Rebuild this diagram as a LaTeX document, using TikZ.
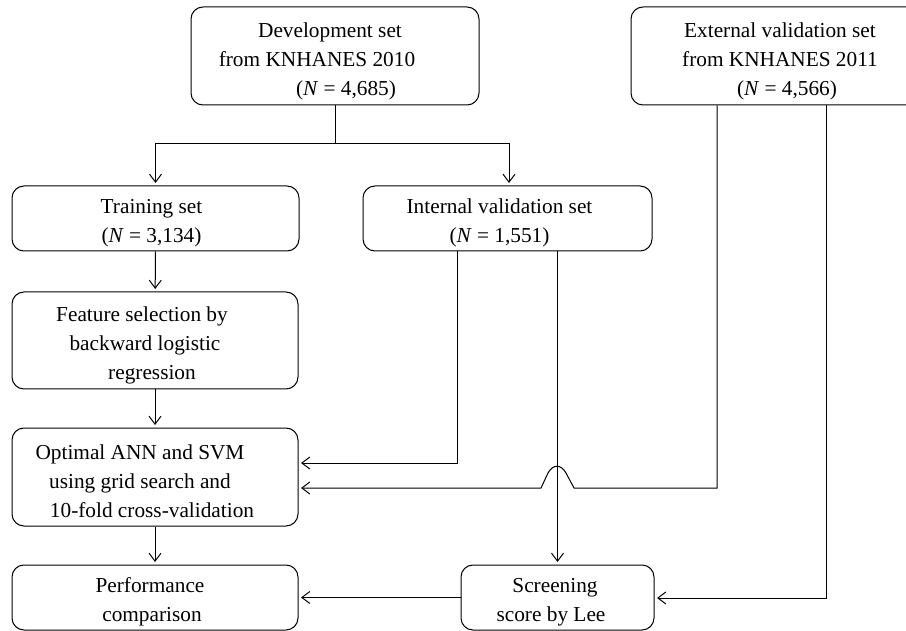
\documentclass[tikz,border=0pt]{standalone}
\usepackage{fontspec}
\setmainfont{Liberation Serif}
\usetikzlibrary{arrows.meta}
\tikzset{
  box/.style={draw, rounded corners=12pt, line width=1pt, inner sep=0pt},
  txt/.style={align=center, inner sep=0pt, font=\fontsize{21.3}{29}\selectfont},
  conn/.style={line width=1pt},
  arr/.style={conn, -{Straight Barb[length=8pt,width=12pt,line width=1pt]}, shorten >=2.5pt}
}
\begin{document}
\begin{tikzpicture}[x=1pt,y=-1pt]
\clip (0,0) rectangle (906,631);
\fill[white] (0,0) rectangle (906,631);

\node[box, minimum width=288pt, minimum height=98pt] (dev) at (335,56) {};
\node[box, minimum width=298pt, minimum height=98pt] (ext) at (780,56) {};
\node[box, minimum width=287pt, minimum height=65pt] (train) at (155.5,218.5) {};
\node[box, minimum width=289pt, minimum height=65pt] (intl) at (507.5,218.5) {};
\node[box, minimum width=286pt, minimum height=97pt] (feat) at (155,340.5) {};
\node[box, minimum width=286pt, minimum height=98pt] (opt) at (155,477) {};
\node[box, minimum width=286pt, minimum height=65pt] (perf) at (155,597.5) {};
\node[box, minimum width=193pt, minimum height=65pt] (scr) at (557.5,597.5) {};

\node[txt] (devt) at (335,61)
  {Development set\hspace*{10pt}\null\\from KNHANES 2010\hspace*{36pt}\null\\\null\hspace*{22pt}(\textit{N} = 4,685)};
\node[txt] (extt) at (780,61)
  {External validation set\\from KNHANES 2011\\\null\hspace*{14pt}(\textit{N} = 4,566)};
\node[txt] (traint) at (155.5,223)
  {Training set\hspace*{8pt}\null\\(\textit{N} = 3,134)\hspace*{8pt}\null};
\node[txt] (intlt) at (507.5,223)
  {Internal validation set\hspace*{16pt}\null\\(\textit{N} = 1,551)\hspace*{16pt}\null};
\node[txt] (featt) at (155,345.5)
  {Feature selection by\hspace*{26pt}\null\\backward logistic\hspace*{20pt}\null\\regression\hspace*{6pt}\null};
\node[txt] (optt) at (155,481)
  {Optimal ANN and SVM\hspace*{30pt}\null\\using grid search and\hspace*{30pt}\null\\10-fold cross-validation\hspace*{6pt}\null};
\node[txt] (perft) at (155,602)
  {Performance\hspace*{10pt}\null\\comparison\hspace*{6pt}\null};
\node[txt] (scrt) at (557.5,602)
  {Screening\hspace*{5pt}\null\\score by Lee\hspace*{13pt}\null};

\coordinate (split) at (335,144);
\coordinate (iv1) at (457,463);
\coordinate (ev1) at (717,488);
\coordinate (hopR) at (574,488);
\coordinate (hopL) at (541,488);
\coordinate (ev2) at (826,598);

\draw[conn] (dev.south) -- (split);
\draw[arr] (split) -| (train.north);
\draw[arr] (split) -| ([xshift=1.5pt]intl.north);
\draw[arr] (train) -- (feat);
\draw[arr] (feat) -- (opt);
\draw[arr] (opt) -- (perf);
\draw[arr] (intl.south -| iv1) -- (iv1) -- (opt.east |- iv1);
\draw[arr] (intl.south -| scr.north) -- (scr.north);
\draw[arr] (ext.south -| ev1) -- (ev1) -- (hopR) -- (566,473)
  .. controls (561,464) and (553,464) .. (548,473) -- (hopL) -- (opt.east |- hopL);
\draw[arr] (ext.south -| ev2) -- (ev2) -- (scr.east |- ev2);
\draw[arr] (scr.west) -- (perf.east);
\end{tikzpicture}
\end{document}
